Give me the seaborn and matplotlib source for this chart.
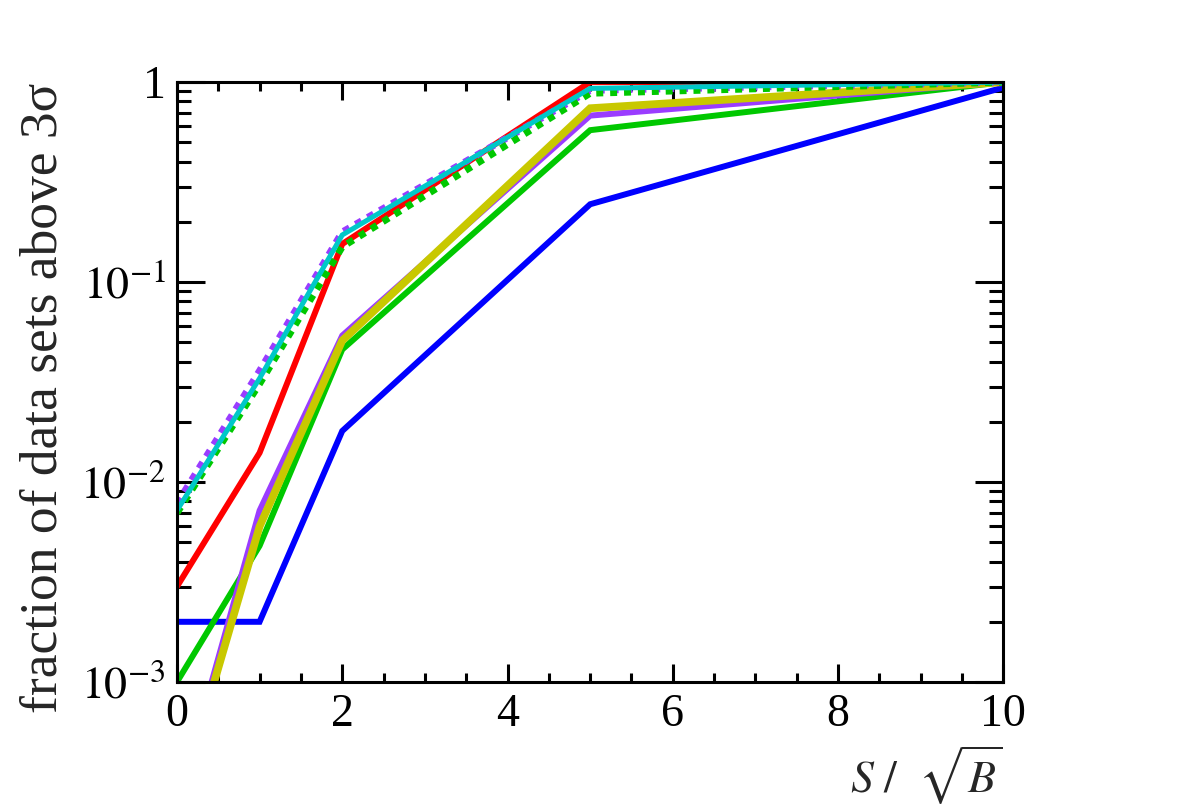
import numpy as np
import pandas as pd
import seaborn as sns
import matplotlib.pyplot as plt
from matplotlib.ticker import MultipleLocator, LogLocator, NullFormatter

# S/sqrt(B) values and fraction of data sets above 3 sigma
s_over_sqrtb = [0, 1, 2, 5, 10]

blue_solid = [0.002, 0.002, 0.018, 0.245, 0.94]
green_solid = [0.001, 0.0048, 0.046, 0.575, 1.0]
purple_solid = [0.00024, 0.0072, 0.054, 0.68, 1.0]
yellow_solid = [0.00023, 0.006, 0.051, 0.74, 1.0]
red_solid = [0.003, 0.014, 0.155, 1.0, 1.0]
purple_dotted = [0.0078, 0.036, 0.178, 0.91, 1.0]
green_dotted = [0.007, 0.031, 0.15, 0.88, 1.0]
cyan_solid = [0.0072, 0.033, 0.172, 0.93, 1.0]

sns.set_style('ticks')
plt.rcParams['font.family'] = ['Liberation Serif', 'DejaVu Serif']
plt.rcParams['mathtext.fontset'] = 'stix'

fig = plt.figure(figsize=(11.82, 8.05), dpi=100)
ax = fig.add_axes([0.1497, 0.1528, 0.8489 - 0.1497, 0.898 - 0.1528])

series = [
    (blue_solid, '#0000ff', '-', 4.3),
    (green_solid, '#00c800', '-', 4.3),
    (purple_solid, '#9a3cff', '-', 4.3),
    (yellow_solid, '#c8c800', '-', 5.6),
    (red_solid, '#ff0000', '-', 4.3),
    (purple_dotted, '#9a3cff', (0, (1, 1)), 5.0),
    (green_dotted, '#00c800', (0, (1, 1)), 5.0),
    (cyan_solid, '#00c8c8', '-', 3.6),
]

for vals, color, ls, lw in series:
    df = pd.DataFrame({'x': s_over_sqrtb, 'y': vals})
    sns.lineplot(data=df, x='x', y='y', ax=ax, color=color, linestyle=ls,
                 lw=lw, errorbar=None, solid_joinstyle='miter')

ax.set_yscale('log')
ax.set_xlim(0, 10)
ax.set_ylim(1e-3, 1)

ax.set_xticks([0, 2, 4, 6, 8, 10])
ax.set_xticklabels(['0', '2', '4', '6', '8', '10'])
ax.xaxis.set_minor_locator(MultipleLocator(0.5))
ax.set_yticks([1e-3, 1e-2, 1e-1, 1])
ax.set_yticklabels([r'$10^{-3}$', r'$10^{-2}$', r'$10^{-1}$', '1'])
ax.yaxis.set_minor_locator(LogLocator(base=10, subs=np.arange(2, 10)))
ax.yaxis.set_minor_formatter(NullFormatter())

ax.tick_params(axis='both', which='both', direction='in', top=True, right=True,
               width=2.2, labelsize=33, colors='black')
ax.tick_params(axis='x', which='major', length=13, pad=8)
ax.tick_params(axis='x', which='minor', length=6.5)
ax.tick_params(axis='y', which='major', length=20, pad=8)
ax.tick_params(axis='y', which='minor', length=10)

for sp in ax.spines.values():
    sp.set_linewidth(2.2)
    sp.set_color('black')

ax.set_xlabel('')
ax.set_ylabel('')
fig.text(0.8486, 0.037, r'$S\ /\ \ \sqrt{B}$', fontsize=33, ha='right', va='center')
fig.text(0.037, 0.897, 'fraction of data sets above 3σ', fontsize=38.5,
         rotation=90, ha='center', va='top')

fig.savefig('out.png', dpi=100)
